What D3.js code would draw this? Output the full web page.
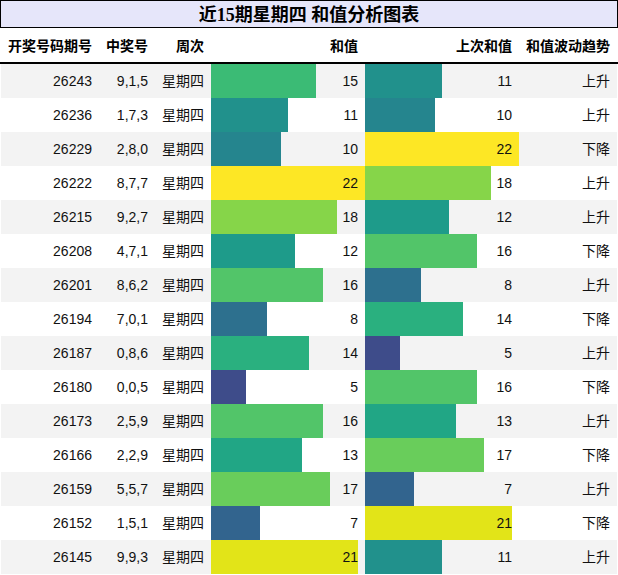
<!DOCTYPE html>
<html>
<head>
<meta charset="utf-8">
<script src="https://cdn.jsdelivr.net/npm/d3@7"></script>
<style>
  body { margin: 0; background: #fff; }
  svg text { font-family: "Liberation Sans", Arial, "Noto Sans CJK SC", sans-serif; }
</style>
</head>
<body>
<svg id="chart" width="618" height="575"></svg>
<script>
const issues = ["26243", "26236", "26229", "26222", "26215", "26208", "26201", "26194", "26187", "26180", "26173", "26166", "26159", "26152", "26145"];
const numbers = ["9,1,5", "1,7,3", "2,8,0", "8,7,7", "9,2,7", "4,7,1", "8,6,2", "7,0,1", "0,8,6", "0,0,5", "2,5,9", "2,2,9", "5,5,7", "1,5,1", "9,9,3"];
const weekday = "星期四";
const sums = [15, 11, 10, 22, 18, 12, 16, 8, 14, 5, 16, 13, 17, 7, 21];
const prevSums = [11, 10, 22, 18, 12, 16, 8, 14, 5, 16, 13, 17, 7, 21, 11];
const trends = ["上升", "上升", "下降", "上升", "上升", "下降", "上升", "下降", "上升", "下降", "上升", "下降", "上升", "下降", "上升"];
const headers = ["开奖号码期号", "中奖号", "周次", "和值", "上次和值", "和值波动趋势"];
const title = "近15期星期四 和值分析图表";

const W = 618;
const rowTop = 64, rowH = 34;
const sumCol = { x0: 211, x1: 365 };
const prevCol = { x0: 365, x1: 519 };

const svg = d3.select("#chart");

// title box
svg.append("rect")
  .attr("x", 0.5).attr("y", 0.5)
  .attr("width", W - 1).attr("height", 27)
  .attr("fill", "#e6e6fa")
  .attr("stroke", "#000");

svg.append("text")
  .attr("x", W / 2).attr("y", 21)
  .attr("text-anchor", "middle")
  .attr("font-size", "18px")
  .attr("font-weight", "bold")
  .style("font-family", "'Liberation Serif', 'Noto Sans CJK SC', serif")
  .text(title);

// header row
const headerX = [92, 148, 204, 358, 512, 610];
svg.append("g")
  .selectAll("text")
  .data(headers)
  .enter().append("text")
  .attr("x", (d, i) => headerX[i])
  .attr("y", 51)
  .attr("text-anchor", "end")
  .attr("font-size", "14px")
  .attr("font-weight", "bold")
  .text((d) => d);

svg.append("line")
  .attr("x1", 0).attr("x2", W)
  .attr("y1", 63).attr("y2", 63)
  .attr("stroke", "#000")
  .attr("stroke-width", 2);

// scales
const rowIdx = d3.range(issues.length);
const y = d3.scaleBand().domain(rowIdx).range([rowTop, rowTop + rowH * issues.length]);
const maxSum = d3.max(sums.concat(prevSums));
const xSum = d3.scaleLinear().domain([0, maxSum]).range([sumCol.x0, sumCol.x1]);
const xPrev = d3.scaleLinear().domain([0, maxSum]).range([prevCol.x0, prevCol.x1]);
const color = d3.scaleSequential(d3.interpolateViridis).domain([0, maxSum]);

const rows = svg.append("g")
  .selectAll("g")
  .data(rowIdx)
  .enter().append("g")
  .attr("transform", (i) => `translate(0,${y(i)})`);

// zebra background
rows.append("rect")
  .attr("x", 1).attr("width", W - 2)
  .attr("height", y.bandwidth())
  .attr("fill", (i) => (i % 2 === 0 ? "#f3f3f3" : "#ffffff"));

// bars
rows.append("rect")
  .attr("x", xSum(0))
  .attr("width", (i) => xSum(sums[i]) - xSum(0))
  .attr("height", y.bandwidth())
  .attr("fill", (i) => color(sums[i]));

rows.append("rect")
  .attr("x", xPrev(0))
  .attr("width", (i) => xPrev(prevSums[i]) - xPrev(0))
  .attr("height", y.bandwidth())
  .attr("fill", (i) => color(prevSums[i]));

// cell texts
const cells = [
  { x: 92, get: (i) => issues[i] },
  { x: 148, get: (i) => numbers[i] },
  { x: 204, get: () => weekday },
  { x: 358, get: (i) => sums[i] },
  { x: 512, get: (i) => prevSums[i] },
  { x: 610, get: (i) => trends[i] }
];

cells.forEach((c) => {
  rows.append("text")
    .attr("x", c.x)
    .attr("y", rowH / 2 + 5)
    .attr("text-anchor", "end")
    .attr("font-size", "14px")
    .attr("fill", "#111")
    .text((i) => c.get(i));
});
</script>
</body>
</html>
